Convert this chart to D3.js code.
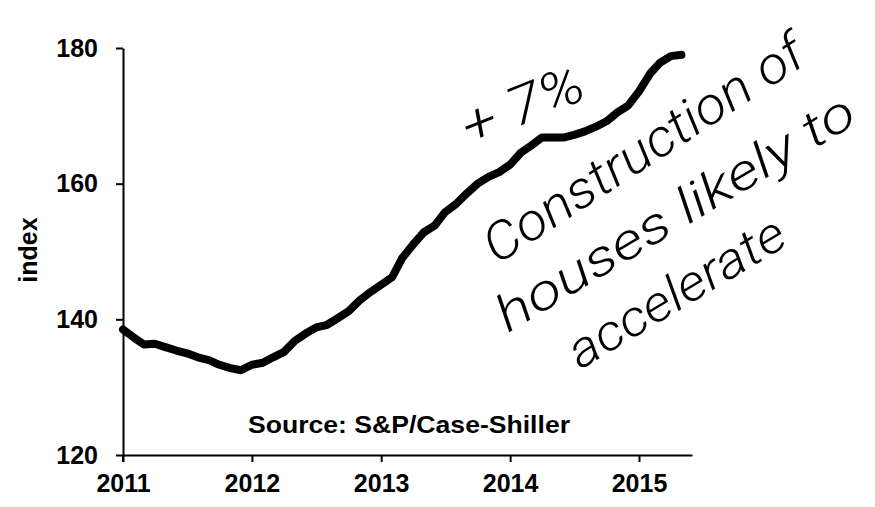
<!DOCTYPE html>
<html>
<head>
<meta charset="utf-8">
<script src="https://cdn.jsdelivr.net/npm/d3@7"></script>
<style>
  html, body { margin: 0; padding: 0; background: #fff; }
  svg { display: block; }
  .axis path, .axis line { stroke: #000; stroke-width: 2px; }
</style>
</head>
<body>
<svg id="chart" width="875" height="507"></svg>
<script>
// ---- data ----
const months = [
  "2011-01","2011-02","2011-03","2011-04","2011-05","2011-06","2011-07","2011-08","2011-09","2011-10","2011-11","2011-12",
  "2012-01","2012-02","2012-03","2012-04","2012-05","2012-06","2012-07","2012-08","2012-09","2012-10","2012-11","2012-12",
  "2013-01","2013-02","2013-03","2013-04","2013-05","2013-06","2013-07","2013-08","2013-09","2013-10","2013-11","2013-12",
  "2014-01","2014-02","2014-03","2014-04","2014-05","2014-06","2014-07","2014-08","2014-09","2014-10","2014-11","2014-12",
  "2015-01","2015-02","2015-03","2015-04","2015-05"
];
const indexValues = [
  138.5,137.3,136.3,136.4,135.9,135.4,135.0,134.4,134.0,133.3,132.8,132.5,
  133.3,133.6,134.4,135.2,136.8,137.9,138.8,139.2,140.2,141.2,142.8,144.0,
  145.1,146.2,149.0,151.0,152.8,153.8,155.8,157.0,158.6,160.0,161.0,161.7,
  162.8,164.6,165.6,166.8,166.8,166.8,167.2,167.7,168.4,169.2,170.5,171.5,
  173.6,176.2,177.8,178.8,179.0
];
const yTicks = [120, 140, 160, 180];
const xTickYears = ["2011","2012","2013","2014","2015"];
const yLabel = "index";
const sourceText = "Source: S&P/Case-Shiller";
const notes = [
  { text: "+ 7%", x: 470, y: 146, angle: -22, len: 128, size: 54 },
  { text: "Construction of", x: 497, y: 265, angle: -33, len: 372, size: 52 },
  { text: "houses likely to", x: 508, y: 333, angle: -31, len: 410, size: 50 },
  { text: "accelerate", x: 580, y: 370, angle: -31, len: 245, size: 50 }
];

// ---- chart ----
const svg = d3.select("#chart");
const parseMonth = d3.timeParse("%Y-%m");
const parseYear = d3.timeParse("%Y");
const data = months.map((m, i) => ({ date: parseMonth(m), value: indexValues[i] }));
const boldFont = "'Liberation Sans', Arial, Helvetica, sans-serif";

const x = d3.scaleTime()
  .domain([parseYear("2011"), new Date(2015, 4, 31)])
  .range([123, 692]);
const y = d3.scaleLinear().domain([120, 180]).range([455, 48]);

function styleTicks(g) {
  g.selectAll("text")
    .attr("fill", "#000")
    .style("font-family", boldFont)
    .style("font-weight", "bold")
    .style("font-size", "25px");
}

// y axis
svg.append("g")
  .attr("class", "axis")
  .attr("transform", `translate(${x.range()[0]},0)`)
  .call(d3.axisLeft(y).tickValues(yTicks).tickSize(7).tickSizeOuter(0).tickPadding(18).tickFormat(d3.format("d")))
  .call(styleTicks);

// x axis
svg.append("g")
  .attr("class", "axis")
  .attr("transform", `translate(0,${y(120)})`)
  .call(d3.axisBottom(x).tickValues(xTickYears.map(parseYear)).tickSize(7).tickSizeOuter(0).tickPadding(12).tickFormat(d3.timeFormat("%Y")))
  .call(styleTicks);

// extend y-axis slightly below x axis
svg.append("line")
  .attr("x1", x.range()[0]).attr("x2", x.range()[0])
  .attr("y1", y(120)).attr("y2", y(120) + 7)
  .attr("stroke", "#000").attr("stroke-width", 2);

// y label
svg.append("text")
  .attr("transform", "translate(37,250) rotate(-90)")
  .attr("text-anchor", "middle")
  .style("font-family", boldFont)
  .style("font-weight", "bold")
  .style("font-size", "25px")
  .text(yLabel);

// source
svg.append("text")
  .attr("x", 248).attr("y", 433)
  .attr("textLength", 322)
  .attr("lengthAdjust", "spacingAndGlyphs")
  .style("font-family", boldFont)
  .style("font-weight", "bold")
  .style("font-size", "24px")
  .text(sourceText);

// line
svg.append("path")
  .datum(data)
  .attr("fill", "none")
  .attr("stroke", "#000")
  .attr("stroke-width", 8)
  .attr("stroke-linejoin", "round")
  .attr("stroke-linecap", "round")
  .attr("d", d3.line().x(d => x(d.date)).y(d => y(d.value)));

// handwritten notes
svg.selectAll("text.hand")
  .data(notes)
  .join("text")
  .attr("class", "hand")
  .attr("transform", d => `translate(${d.x},${d.y}) rotate(${d.angle})`)
  .attr("textLength", d => d.len)
  .attr("lengthAdjust", "spacingAndGlyphs")
  .attr("fill", "#000")
  .style("font-family", "Roboto, 'Open Sans', Lato, sans-serif")
  .style("font-weight", "300")
  .style("font-style", "italic")
  .style("font-size", d => d.size + "px")
  .text(d => d.text);
</script>
</body>
</html>
